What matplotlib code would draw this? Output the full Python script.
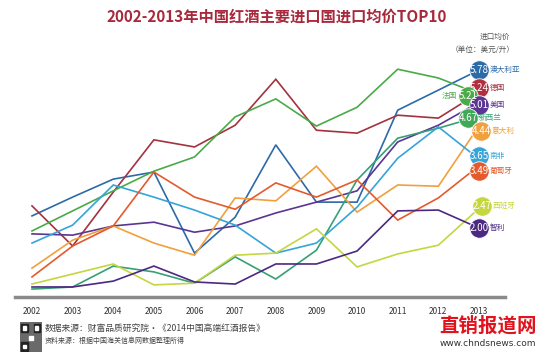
import matplotlib
matplotlib.use("Agg")
import matplotlib.pyplot as plt
import matplotlib.transforms as mtransforms
from matplotlib.patches import Rectangle

plt.rcParams['font.family'] = ['Noto Sans CJK SC', 'DejaVu Sans']

# data (average import price, USD per litre)
years = [2002, 2003, 2004, 2005, 2006, 2007, 2008, 2009, 2010, 2011, 2012, 2013]
australia = [2.29, 2.74, 3.17, 3.34, 1.40, 2.26, 3.99, 2.62, 2.62, 4.82, 5.30, 5.78]
germany = [2.53, 1.57, 2.86, 4.11, 3.94, 4.46, 5.56, 4.34, 4.27, 4.70, 4.63, 5.24]
france = [1.93, 2.41, 2.89, 3.36, 3.70, 4.66, 5.09, 4.44, 4.89, 5.80, 5.59, 5.21]
usa = [1.86, 1.83, 2.05, 2.14, 1.90, 2.05, 2.36, 2.62, 2.89, 4.06, 4.46, 5.01]
new_zealand = [0.54, 0.59, 1.09, 0.95, 0.68, 1.31, 0.78, 1.47, 3.15, 4.15, 4.39, 4.67]
italy = [1.04, 1.71, 2.05, 1.64, 1.35, 2.72, 2.65, 3.48, 2.38, 3.03, 3.00, 4.44]
south_africa = [1.64, 2.07, 3.03, 2.74, 2.43, 2.07, 1.40, 1.64, 2.50, 3.67, 4.42, 3.65]
portugal = [0.83, 1.57, 2.05, 3.34, 2.74, 2.45, 3.08, 2.74, 3.15, 2.19, 2.72, 3.49]
spain = [0.66, 0.90, 1.14, 0.64, 0.68, 1.35, 1.40, 1.98, 1.07, 1.38, 1.59, 2.47]
chile = [0.59, 0.59, 0.73, 1.09, 0.71, 0.66, 1.14, 1.14, 1.45, 2.41, 2.43, 2.00]

names = ['澳大利亚', '德国', '法国', '美国', '新西兰', '意大利', '南非', '葡萄牙', '西班牙', '智利']
series = [australia, germany, france, usa, new_zealand, italy, south_africa, portugal, spain, chile]

colors = ['#2c6aa8', '#a3323f', '#4aaa48', '#5a3592', '#36a074',
          '#f0a03c', '#35a4d8', '#e45a2c', '#c4d640', '#4b2882']
circle_colors = ['#2c6aa8', '#b03040', '#4aaa48', '#5a3592', '#40a858',
                 '#f0a03c', '#35a4d8', '#e45a2c', '#c4d640', '#4b2882']
# nudges of the end labels (pixels, x right / y up) so circles do not pile up
nudge = [(0, 0), (0, 5), (-11, -2), (0, -3), (-11, -2),
         (2, -5), (0, 3), (0, -5), (3, 2), (0, 0)]

fig = plt.figure(figsize=(5.54, 3.55), dpi=100)
ax = fig.add_axes([15 / 554, (355 - 297) / 355, 490 / 554, 242 / 355])
ax.set_xlim(2001.582, 2013.64)
ax.set_ylim(0.35, 6.14)

for vals, c in zip(series, colors):
    ax.plot(years, vals, color=c, lw=1.2, solid_joinstyle='miter', zorder=2)

for name, vals, c, cc, (dx, dy) in zip(names, series, colors, circle_colors, nudge):
    tr = mtransforms.offset_copy(ax.transData, fig=fig, x=dx, y=dy, units='dots')
    ax.plot([years[-1]], [vals[-1]], marker='o', ms=14, color=cc, mec='white',
            mew=0.6, transform=tr, zorder=5, clip_on=False)
    ax.text(years[-1], vals[-1], '%.2f' % vals[-1], transform=tr, color='white',
            fontsize=7, ha='center', va='center', zorder=6)
    if name == '法国':
        lt = mtransforms.offset_copy(ax.transData, fig=fig, x=dx - 11, y=dy, units='dots')
        ax.text(years[-1], vals[-1], name, transform=lt, color=c, fontsize=5.5,
                ha='right', va='center', zorder=6)
    else:
        lt = mtransforms.offset_copy(ax.transData, fig=fig, x=dx + 11, y=dy, units='dots')
        ax.text(years[-1], vals[-1], name, transform=lt, color=c, fontsize=5.5,
                ha='left', va='center', zorder=6)

for s in ['top', 'right', 'left']:
    ax.spines[s].set_visible(False)
ax.spines['bottom'].set_color('#8a8a8a')
ax.spines['bottom'].set_linewidth(2.5)
ax.set_yticks([])
ax.set_xticks(years)
ax.set_xticklabels([str(y) for y in years])
ax.tick_params(axis='x', length=0, pad=7, labelsize=6, labelcolor='#333333')

fig.text(0.5, 1 - 17 / 355, '2002-2013年中国红酒主要进口国进口均价TOP10',
         ha='center', va='center', fontsize=11, color='#a8283c', fontweight='bold')
fig.text(510 / 554, 1 - 37 / 355, '进口均价', ha='right', va='center',
         fontsize=5.5, color='#555555')
fig.text(515 / 554, 1 - 50 / 355, '（单位：美元/升）', ha='right', va='center',
         fontsize=5.5, color='#555555')

# footer
qr = fig.add_axes([20 / 554, 3 / 355, 22 / 554, 30 / 355])
qr.add_patch(Rectangle((0, 0), 1, 1, color='#6a6a6a'))
for (x0, y0) in [(0.05, 0.68), (0.62, 0.68), (0.05, 0.05)]:
    qr.add_patch(Rectangle((x0, y0), 0.3, 0.27, color='#222222'))
    qr.add_patch(Rectangle((x0 + 0.08, y0 + 0.07), 0.14, 0.13, color='white'))
qr.add_patch(Rectangle((0.42, 0.4), 0.15, 0.15, color='white'))
qr.set_xlim(0, 1)
qr.set_ylim(0, 1)
qr.axis('off')

fig.text(45 / 554, 1 - 328 / 355, '数据来源：财富品质研究院·《2014中国高端红酒报告》',
         ha='left', va='center', fontsize=6.3, color='#444444')
fig.text(45 / 554, 1 - 341 / 355, '资料来源：根据中国海关信息网数据整理所得',
         ha='left', va='center', fontsize=5, color='#444444')
fig.text(488 / 554, 1 - 326 / 355, '直销报道网', ha='center', va='center',
         fontsize=14, color='#e0141e', fontstyle='italic', fontweight='bold')
fig.text(488 / 554, 1 - 344 / 355, 'www.chndsnews.com', ha='center', va='center',
         fontsize=6.5, color='#333333', family='DejaVu Sans')

fig.savefig('out.png', dpi=100)
